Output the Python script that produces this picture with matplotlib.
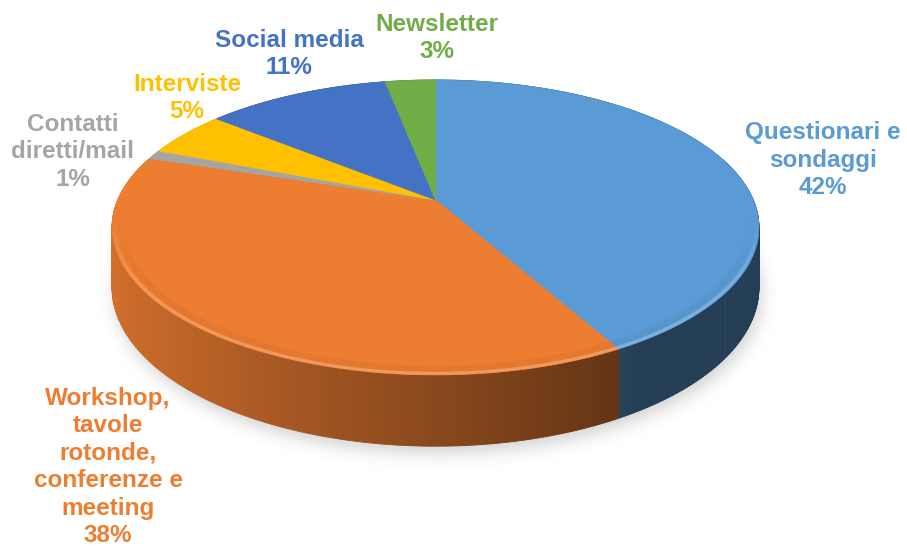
import numpy as np
import matplotlib.pyplot as plt
from matplotlib.patches import Polygon
from matplotlib.path import Path
from matplotlib.collections import LineCollection
from matplotlib.colors import to_rgb

# dati del grafico
etichette = ['Questionari e\nsondaggi', 'Workshop,\ntavole\nrotonde,\nconferenze e\nmeeting',
             'Contatti\ndiretti/mail', 'Interviste', 'Social media', 'Newsletter']
valori = [42, 38, 1, 5, 11, 3]
colori = ['#5B9BD5', '#ED7D31', '#A5A5A5', '#FFC000', '#4472C4', '#70AD47']

# posizione delle etichette (pixel)
pos_etichette = [(823, 160), (108, 467), (73, 152), (187, 98), (289, 54), (437, 38)]

# geometria della torta in prospettiva (pixel)
CX, CY = 435.5, 200.0
A, B, K = 317.8, 142.4, 0.186
SPESSORE = 58.0


def proietta(phi, r=1.0):
    # phi in senso orario partendo dalle ore 12
    u = r * np.sin(phi)
    v = -r * np.cos(phi)
    w = 1.0 / (1.0 - K * v)
    return CX + A * u * w, CY + B * v * w, w, u, v


def scurisci(col, f):
    return tuple(np.clip(np.array(to_rgb(col)) * f, 0, 1))


def schiarisci(col, f):
    c = np.array(to_rgb(col))
    return tuple(np.clip(c + (1 - c) * f, 0, 1))


fig = plt.figure(figsize=(9.07, 5.52), dpi=100)
ax = fig.add_axes([0, 0, 1, 1])
ax.set_xlim(0, 907)
ax.set_ylim(552, 0)
ax.axis('off')

tot = float(sum(valori))
angoli = np.concatenate([[0], np.cumsum(valori) / tot * 2 * np.pi])

# ombra sotto la torta
phi_all = np.linspace(0, 2 * np.pi, 400)
xb, yb, wb, _, _ = proietta(phi_all)
yb = yb + SPESSORE * wb
ombra = Path(np.column_stack([xb + 3, yb + 7]))
gx, gy = np.meshgrid(np.arange(907) + 0.5, np.arange(552) + 0.5)
maschera = ombra.contains_points(np.column_stack([gx.ravel(), gy.ravel()])).reshape(552, 907).astype(float)
k = np.exp(-0.5 * (np.arange(-24, 25) / 8.0) ** 2)
k /= k.sum()
maschera = np.apply_along_axis(lambda r: np.convolve(r, k, mode='same'), 1, maschera)
maschera = np.apply_along_axis(lambda r: np.convolve(r, k, mode='same'), 0, maschera)
img = np.zeros((552, 907, 4))
img[..., :3] = 0.45
img[..., 3] = 0.32 * maschera
ax.imshow(img, extent=(0, 907, 552, 0), zorder=0, interpolation='bilinear')
ax.set_aspect('auto')

# pareti laterali, dal fondo verso il davanti
pareti = []
for i in range(len(valori)):
    n = max(2, int((angoli[i + 1] - angoli[i]) / np.radians(0.6)) + 1)
    phi = np.linspace(angoli[i], angoli[i + 1], n)
    x, y, w, u, v = proietta(phi)
    for j in range(n - 1):
        quad = [(x[j], y[j]), (x[j + 1], y[j + 1]),
                (x[j + 1], y[j + 1] + SPESSORE * w[j + 1]), (x[j], y[j] + SPESSORE * w[j])]
        um = 0.5 * (u[j] + u[j + 1])
        f = max(0.576 - 0.324 * um, 0.40)
        pareti.append((0.5 * (v[j] + v[j + 1]), quad, scurisci(colori[i], f)))
pareti.sort(key=lambda p: p[0])
for _, quad, c in pareti:
    ax.add_patch(Polygon(quad, closed=True, facecolor=c, edgecolor=c, lw=0.6, zorder=2))

# facce superiori
for i in range(len(valori)):
    n = max(2, int((angoli[i + 1] - angoli[i]) / np.radians(0.5)) + 1)
    phi = np.linspace(angoli[i], angoli[i + 1], n)
    x, y, _, _, _ = proietta(phi)
    pts = [(CX, CY)] + list(zip(x, y))
    ax.add_patch(Polygon(pts, closed=True, facecolor=colori[i], edgecolor=colori[i], lw=0.5, zorder=3))

# bordo smussato sul davanti, sfumato verso i lati
for i in range(len(valori)):
    n = max(2, int((angoli[i + 1] - angoli[i]) / np.radians(0.5)) + 1)
    phi = np.linspace(angoli[i], angoli[i + 1], n)
    for r, col, lw, amax in [(0.972, scurisci(colori[i], 0.9), 4.5, 0.35),
                             (0.993, schiarisci(colori[i], 0.25), 2.2, 0.9)]:
        x, y, _, _, v = proietta(phi, r)
        seg = [[(x[j], y[j]), (x[j + 1], y[j + 1])] for j in range(n - 1)]
        vm = 0.5 * (v[:-1] + v[1:])
        alpha = amax * np.clip((vm - 0.15) / 0.35, 0, 1)
        cols = [col + (a,) for a in alpha]
        ax.add_collection(LineCollection(seg, colors=cols, linewidths=lw, capstyle='butt', zorder=4))

# etichette
for i in range(len(valori)):
    testo = etichette[i] + '\n' + '{:.0f}%'.format(valori[i] / tot * 100)
    ax.text(pos_etichette[i][0], pos_etichette[i][1], testo, ha='center', va='center',
            multialignment='center', fontsize=17.5, fontweight='bold', color=colori[i],
            family='Liberation Sans', linespacing=1.25, zorder=5)

fig.savefig('out.png', dpi=100)
